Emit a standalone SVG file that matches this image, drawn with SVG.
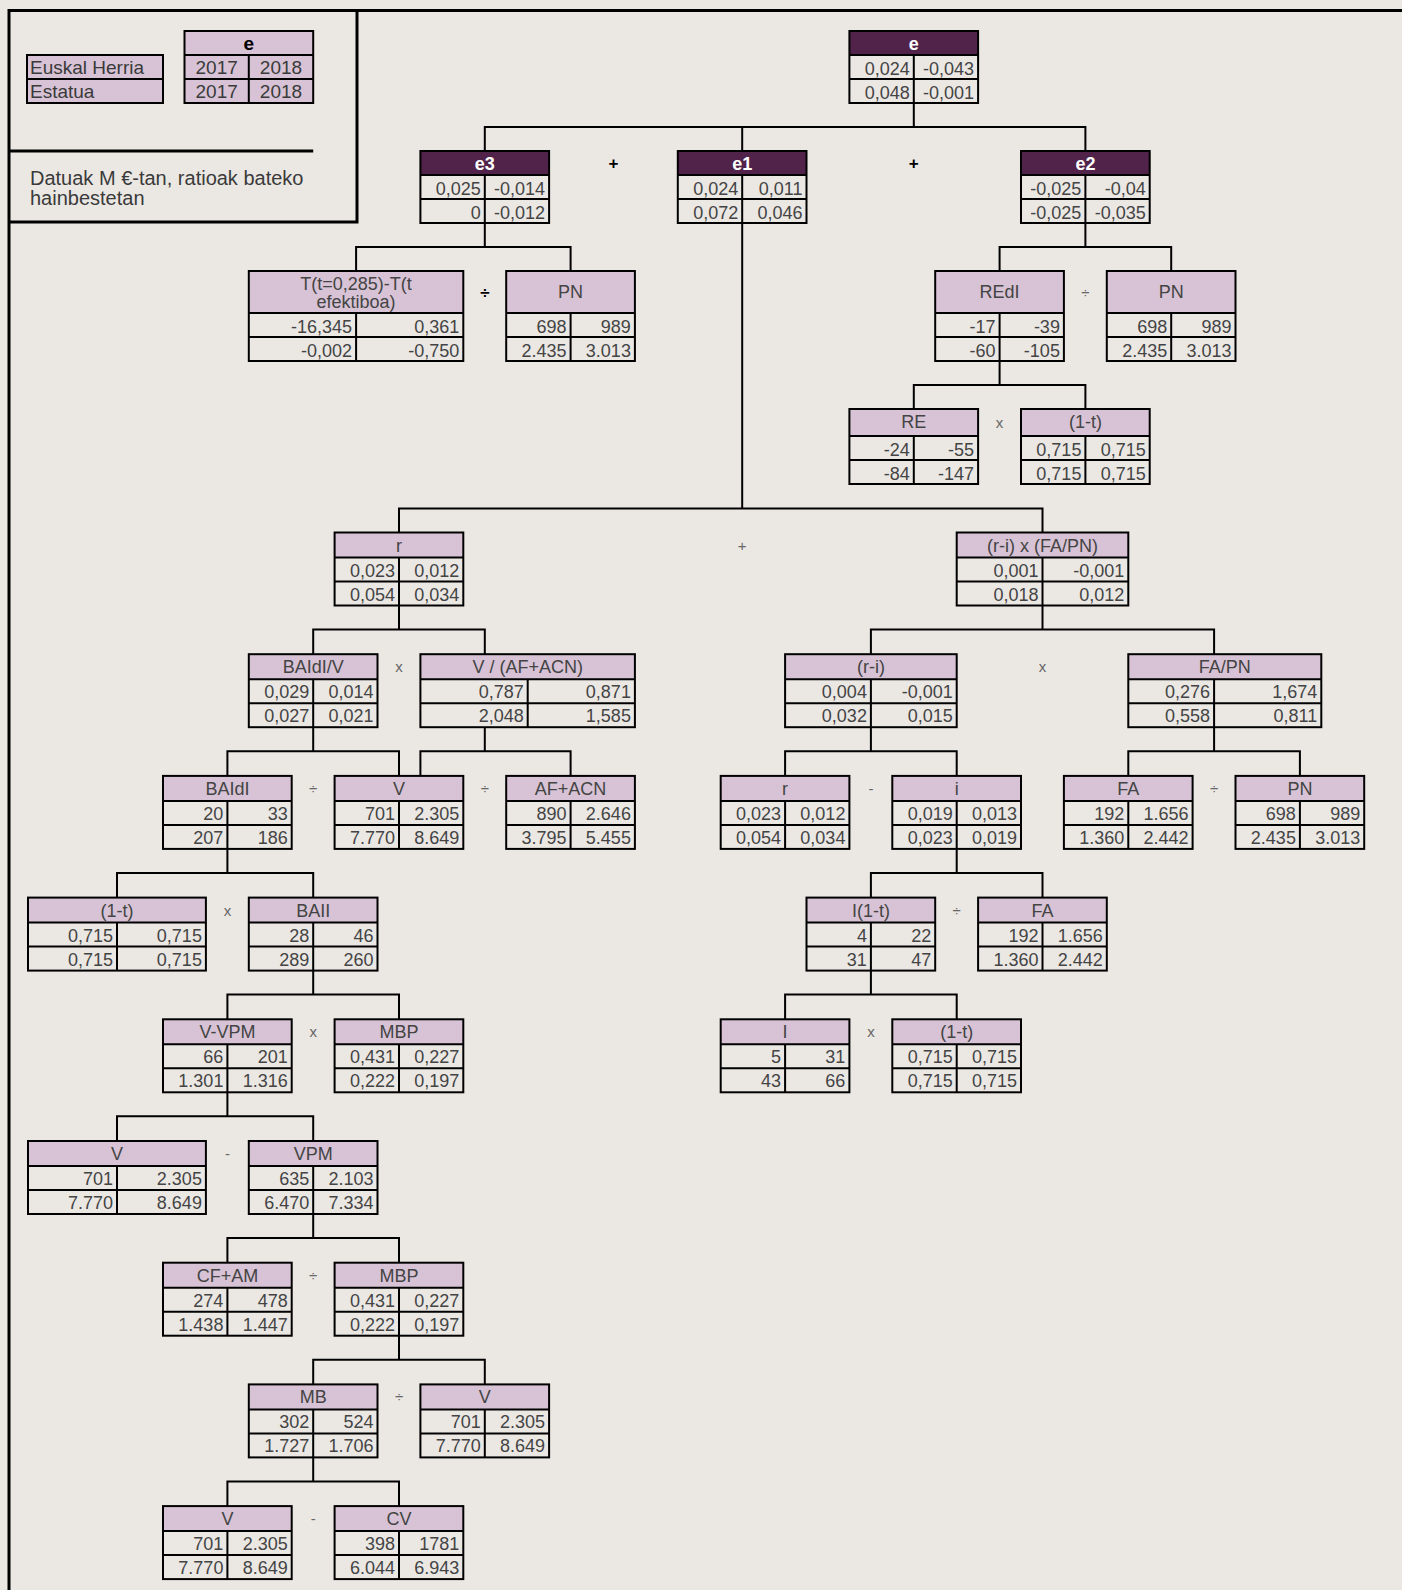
<svg xmlns="http://www.w3.org/2000/svg" width="1402" height="1590" viewBox="0 0 1402 1590">
<style>
.bg{fill:#ebe8e4}
.frame{fill:none;stroke:#000;stroke-width:3}
.hd{fill:#d7c3d5}
.hk{fill:#51224a}
.bx{fill:none;stroke:#000;stroke-width:2}
.gl{fill:none;stroke:#000;stroke-width:2}
.cn{fill:none;stroke:#000;stroke-width:2}
text{font-family:'Liberation Sans',Arial,sans-serif;font-size:18px;fill:#444}
.n{text-anchor:end}
.h{text-anchor:middle}
.hw{text-anchor:middle;fill:#fff;font-weight:bold;font-size:18px}
.op{text-anchor:middle;fill:#666;font-size:15px}
.opb{text-anchor:middle;fill:#000;font-weight:bold;font-size:17px}
.lg{font-size:19px;fill:#3a3a3a}
.lgb{text-anchor:middle;font-weight:bold;fill:#000;font-size:19px}
.note{font-size:20px;fill:#3a3a3a}
</style>
<rect class="bg" x="0" y="0" width="1402" height="1590"/>
<path class="frame" d="M9 1590V10.5H1402"/>

<g id="legend">
<rect class="hd" x="27" y="55" width="136" height="48"/>
<rect class="bx" x="27" y="55" width="136" height="48"/>
<path class="gl" d="M27 79H163"/>
<text class="lg" x="30" y="74">Euskal Herria</text>
<text class="lg" x="30" y="98">Estatua</text>
<rect class="hd" x="184.5" y="31" width="128.7" height="72"/>
<rect class="bx" x="184.5" y="31" width="128.7" height="72"/>
<path class="gl" d="M184.5 55H313.2M184.5 79H313.2M248.8 55V103"/>
<text class="lgb" x="248.8" y="50">e</text>
<text class="lg h" x="216.7" y="74">2017</text>
<text class="lg h" x="281" y="74">2018</text>
<text class="lg h" x="216.7" y="98">2017</text>
<text class="lg h" x="281" y="98">2018</text>
<path class="frame" d="M9 151H313.2"/>
<path class="frame" d="M357 10V222H9"/>
<text class="note" x="30" y="185">Datuak M €-tan, ratioak bateko</text>
<text class="note" x="30" y="205">hainbestetan</text>
</g>

<g id="connectors">
<path class="cn" d="M913.8 103V127M484.8 151V127H1085.4V151M742.2 127V151"/>
<path class="cn" d="M484.8 223V247M356.1 271V247H570.6V271"/>
<path class="cn" d="M1085.4 223V247M999.6 271V247H1171.2V271"/>
<path class="cn" d="M999.6 361V385M913.8 409V385H1085.4V409"/>
<path class="cn" d="M742.2 223V508.5M399 532.5V508.5H1042.5V532.5"/>
<path class="cn" d="M399 605.5V629.5M313.2 654.2V629.5H484.8V654.2"/>
<path class="cn" d="M1042.5 605.5V629.5M870.9 654.2V629.5H1214.1V654.2"/>
<path class="cn" d="M313.2 727.2V751.2M227.4 775.9V751.2H399V775.9"/>
<path class="cn" d="M484.8 727.2V751.2M420.4 775.9V751.2H570.6V775.9"/>
<path class="cn" d="M870.9 727.2V751.2M785.1 775.9V751.2H956.7V775.9"/>
<path class="cn" d="M1214.1 727.2V751.2M1128.3 775.9V751.2H1299.9V775.9"/>
<path class="cn" d="M227.4 848.9V872.9M117 897.6V872.9H313.2V897.6"/>
<path class="cn" d="M956.7 848.9V872.9M870.9 897.6V872.9H1042.5V897.6"/>
<path class="cn" d="M313.2 970.6V994.6M227.4 1019.3V994.6H399V1019.3"/>
<path class="cn" d="M870.9 970.6V994.6M785.1 1019.3V994.6H956.7V1019.3"/>
<path class="cn" d="M227.4 1092.3V1116.3M117 1141V1116.3H313.2V1141"/>
<path class="cn" d="M313.2 1214V1238M227.4 1262.7V1238H399V1262.7"/>
<path class="cn" d="M399 1335.7V1359.7M313.2 1384.4V1359.7H484.8V1384.4"/>
<path class="cn" d="M313.2 1457.4V1481.4M227.4 1506.1V1481.4H399V1506.1"/>
</g>

<g id="operators">
<text class="opb" x="613.5" y="169">+</text>
<text class="opb" x="913.8" y="169">+</text>
<text class="opb" x="484.8" y="298">÷</text>
<text class="op" x="1085.4" y="298">÷</text>
<text class="op" x="999.6" y="428">x</text>
<text class="op" x="742.2" y="550.5">+</text>
<text class="op" x="399" y="672.2">x</text>
<text class="op" x="1042.5" y="672.2">x</text>
<text class="op" x="313.2" y="793.9">÷</text>
<text class="op" x="484.8" y="793.9">÷</text>
<text class="op" x="870.9" y="793.9">-</text>
<text class="op" x="1214.1" y="793.9">÷</text>
<text class="op" x="227.4" y="915.6">x</text>
<text class="op" x="956.7" y="915.6">÷</text>
<text class="op" x="313.2" y="1037.3">x</text>
<text class="op" x="870.9" y="1037.3">x</text>
<text class="op" x="227.4" y="1159">-</text>
<text class="op" x="313.2" y="1280.7">÷</text>
<text class="op" x="399" y="1402.4">÷</text>
<text class="op" x="313.2" y="1524.1">-</text>
</g>

<g id="node-e">
<rect class="hk" x="849.4" y="31" width="128.7" height="24"/>
<rect class="bx" x="849.4" y="31" width="128.7" height="72"/>
<path class="gl" d="M849.4 55H978.1M849.4 79H978.1M913.8 55V103"/>
<text class="hw" x="913.8" y="50">e</text>
<text class="n" x="909.8" y="74.5">0,024</text><text class="n" x="974.1" y="74.5">-0,043</text>
<text class="n" x="909.8" y="98.5">0,048</text><text class="n" x="974.1" y="98.5">-0,001</text>
</g>

<g id="node-e3">
<rect class="hk" x="420.4" y="151" width="128.7" height="24"/>
<rect class="bx" x="420.4" y="151" width="128.7" height="72"/>
<path class="gl" d="M420.4 175H549.1M420.4 199H549.1M484.8 175V223"/>
<text class="hw" x="484.8" y="170">e3</text>
<text class="n" x="480.8" y="194.5">0,025</text><text class="n" x="545.1" y="194.5">-0,014</text>
<text class="n" x="480.8" y="218.5">0</text><text class="n" x="545.1" y="218.5">-0,012</text>
</g>

<g id="node-e1">
<rect class="hk" x="677.8" y="151" width="128.7" height="24"/>
<rect class="bx" x="677.8" y="151" width="128.7" height="72"/>
<path class="gl" d="M677.8 175H806.5M677.8 199H806.5M742.2 175V223"/>
<text class="hw" x="742.2" y="170">e1</text>
<text class="n" x="738.2" y="194.5">0,024</text><text class="n" x="802.5" y="194.5">0,011</text>
<text class="n" x="738.2" y="218.5">0,072</text><text class="n" x="802.5" y="218.5">0,046</text>
</g>

<g id="node-e2">
<rect class="hk" x="1021" y="151" width="128.7" height="24"/>
<rect class="bx" x="1021" y="151" width="128.7" height="72"/>
<path class="gl" d="M1021 175H1149.7M1021 199H1149.7M1085.4 175V223"/>
<text class="hw" x="1085.4" y="170">e2</text>
<text class="n" x="1081.4" y="194.5">-0,025</text><text class="n" x="1145.7" y="194.5">-0,04</text>
<text class="n" x="1081.4" y="218.5">-0,025</text><text class="n" x="1145.7" y="218.5">-0,035</text>
</g>

<g id="node-tax">
<rect class="hd" x="248.8" y="271" width="214.5" height="42"/>
<rect class="bx" x="248.8" y="271" width="214.5" height="90"/>
<path class="gl" d="M248.8 313H463.3M248.8 337H463.3M356.1 313V361"/>
<text class="h" x="356.1" y="290">T(t=0,285)-T(t</text>
<text class="h" x="356.1" y="308">efektiboa)</text>
<text class="n" x="352.1" y="332.5">-16,345</text><text class="n" x="459.3" y="332.5">0,361</text>
<text class="n" x="352.1" y="356.5">-0,002</text><text class="n" x="459.3" y="356.5">-0,750</text>
</g>

<g id="node-pn1">
<rect class="hd" x="506.2" y="271" width="128.7" height="42"/>
<rect class="bx" x="506.2" y="271" width="128.7" height="90"/>
<path class="gl" d="M506.2 313H634.9M506.2 337H634.9M570.6 313V361"/>
<text class="h" x="570.6" y="298">PN</text>
<text class="n" x="566.6" y="332.5">698</text><text class="n" x="630.9" y="332.5">989</text>
<text class="n" x="566.6" y="356.5">2.435</text><text class="n" x="630.9" y="356.5">3.013</text>
</g>

<g id="node-redi">
<rect class="hd" x="935.2" y="271" width="128.7" height="42"/>
<rect class="bx" x="935.2" y="271" width="128.7" height="90"/>
<path class="gl" d="M935.2 313H1063.9M935.2 337H1063.9M999.6 313V361"/>
<text class="h" x="999.6" y="298">REdI</text>
<text class="n" x="995.6" y="332.5">-17</text><text class="n" x="1059.9" y="332.5">-39</text>
<text class="n" x="995.6" y="356.5">-60</text><text class="n" x="1059.9" y="356.5">-105</text>
</g>

<g id="node-pn2">
<rect class="hd" x="1106.8" y="271" width="128.7" height="42"/>
<rect class="bx" x="1106.8" y="271" width="128.7" height="90"/>
<path class="gl" d="M1106.8 313H1235.5M1106.8 337H1235.5M1171.2 313V361"/>
<text class="h" x="1171.2" y="298">PN</text>
<text class="n" x="1167.2" y="332.5">698</text><text class="n" x="1231.5" y="332.5">989</text>
<text class="n" x="1167.2" y="356.5">2.435</text><text class="n" x="1231.5" y="356.5">3.013</text>
</g>

<g id="node-re">
<rect class="hd" x="849.4" y="409" width="128.7" height="27"/>
<rect class="bx" x="849.4" y="409" width="128.7" height="75"/>
<path class="gl" d="M849.4 436H978.1M849.4 460H978.1M913.8 436V484"/>
<text class="h" x="913.8" y="428">RE</text>
<text class="n" x="909.8" y="455.5">-24</text><text class="n" x="974.1" y="455.5">-55</text>
<text class="n" x="909.8" y="479.5">-84</text><text class="n" x="974.1" y="479.5">-147</text>
</g>

<g id="node-1t-a">
<rect class="hd" x="1021" y="409" width="128.7" height="27"/>
<rect class="bx" x="1021" y="409" width="128.7" height="75"/>
<path class="gl" d="M1021 436H1149.7M1021 460H1149.7M1085.4 436V484"/>
<text class="h" x="1085.4" y="428">(1-t)</text>
<text class="n" x="1081.4" y="455.5">0,715</text><text class="n" x="1145.7" y="455.5">0,715</text>
<text class="n" x="1081.4" y="479.5">0,715</text><text class="n" x="1145.7" y="479.5">0,715</text>
</g>

<g id="node-r">
<rect class="hd" x="334.6" y="532.5" width="128.7" height="25"/>
<rect class="bx" x="334.6" y="532.5" width="128.7" height="73"/>
<path class="gl" d="M334.6 557.5H463.3M334.6 581.5H463.3M399 557.5V605.5"/>
<text class="h" x="399" y="551.5">r</text>
<text class="n" x="395" y="576.5">0,023</text><text class="n" x="459.3" y="576.5">0,012</text>
<text class="n" x="395" y="600.5">0,054</text><text class="n" x="459.3" y="600.5">0,034</text>
</g>

<g id="node-rifapn">
<rect class="hd" x="956.7" y="532.5" width="171.6" height="25"/>
<rect class="bx" x="956.7" y="532.5" width="171.6" height="73"/>
<path class="gl" d="M956.7 557.5H1128.3M956.7 581.5H1128.3M1042.5 557.5V605.5"/>
<text class="h" x="1042.5" y="551.5">(r-i) x (FA/PN)</text>
<text class="n" x="1038.5" y="576.5">0,001</text><text class="n" x="1124.3" y="576.5">-0,001</text>
<text class="n" x="1038.5" y="600.5">0,018</text><text class="n" x="1124.3" y="600.5">0,012</text>
</g>

<g id="node-baidiv">
<rect class="hd" x="248.8" y="654.2" width="128.7" height="25"/>
<rect class="bx" x="248.8" y="654.2" width="128.7" height="73"/>
<path class="gl" d="M248.8 679.2H377.5M248.8 703.2H377.5M313.2 679.2V727.2"/>
<text class="h" x="313.2" y="673.2">BAIdI/V</text>
<text class="n" x="309.2" y="698.2">0,029</text><text class="n" x="373.5" y="698.2">0,014</text>
<text class="n" x="309.2" y="722.2">0,027</text><text class="n" x="373.5" y="722.2">0,021</text>
</g>

<g id="node-vafacn">
<rect class="hd" x="420.4" y="654.2" width="214.5" height="25"/>
<rect class="bx" x="420.4" y="654.2" width="214.5" height="73"/>
<path class="gl" d="M420.4 679.2H634.9M420.4 703.2H634.9M527.7 679.2V727.2"/>
<text class="h" x="527.7" y="673.2">V / (AF+ACN)</text>
<text class="n" x="523.7" y="698.2">0,787</text><text class="n" x="630.9" y="698.2">0,871</text>
<text class="n" x="523.7" y="722.2">2,048</text><text class="n" x="630.9" y="722.2">1,585</text>
</g>

<g id="node-ri">
<rect class="hd" x="785.1" y="654.2" width="171.6" height="25"/>
<rect class="bx" x="785.1" y="654.2" width="171.6" height="73"/>
<path class="gl" d="M785.1 679.2H956.7M785.1 703.2H956.7M870.9 679.2V727.2"/>
<text class="h" x="870.9" y="673.2">(r-i)</text>
<text class="n" x="866.9" y="698.2">0,004</text><text class="n" x="952.7" y="698.2">-0,001</text>
<text class="n" x="866.9" y="722.2">0,032</text><text class="n" x="952.7" y="722.2">0,015</text>
</g>

<g id="node-fapn">
<rect class="hd" x="1128.3" y="654.2" width="193" height="25"/>
<rect class="bx" x="1128.3" y="654.2" width="193" height="73"/>
<path class="gl" d="M1128.3 679.2H1321.3M1128.3 703.2H1321.3M1214.1 679.2V727.2"/>
<text class="h" x="1224.8" y="673.2">FA/PN</text>
<text class="n" x="1210.1" y="698.2">0,276</text><text class="n" x="1317.3" y="698.2">1,674</text>
<text class="n" x="1210.1" y="722.2">0,558</text><text class="n" x="1317.3" y="722.2">0,811</text>
</g>

<g id="node-baidi">
<rect class="hd" x="163" y="775.9" width="128.7" height="25"/>
<rect class="bx" x="163" y="775.9" width="128.7" height="73"/>
<path class="gl" d="M163 800.9H291.7M163 824.9H291.7M227.4 800.9V848.9"/>
<text class="h" x="227.4" y="794.9">BAIdI</text>
<text class="n" x="223.4" y="819.9">20</text><text class="n" x="287.7" y="819.9">33</text>
<text class="n" x="223.4" y="843.9">207</text><text class="n" x="287.7" y="843.9">186</text>
</g>

<g id="node-v1">
<rect class="hd" x="334.6" y="775.9" width="128.7" height="25"/>
<rect class="bx" x="334.6" y="775.9" width="128.7" height="73"/>
<path class="gl" d="M334.6 800.9H463.3M334.6 824.9H463.3M399 800.9V848.9"/>
<text class="h" x="399" y="794.9">V</text>
<text class="n" x="395" y="819.9">701</text><text class="n" x="459.3" y="819.9">2.305</text>
<text class="n" x="395" y="843.9">7.770</text><text class="n" x="459.3" y="843.9">8.649</text>
</g>

<g id="node-afacn">
<rect class="hd" x="506.2" y="775.9" width="128.7" height="25"/>
<rect class="bx" x="506.2" y="775.9" width="128.7" height="73"/>
<path class="gl" d="M506.2 800.9H634.9M506.2 824.9H634.9M570.6 800.9V848.9"/>
<text class="h" x="570.6" y="794.9">AF+ACN</text>
<text class="n" x="566.6" y="819.9">890</text><text class="n" x="630.9" y="819.9">2.646</text>
<text class="n" x="566.6" y="843.9">3.795</text><text class="n" x="630.9" y="843.9">5.455</text>
</g>

<g id="node-r2">
<rect class="hd" x="720.7" y="775.9" width="128.7" height="25"/>
<rect class="bx" x="720.7" y="775.9" width="128.7" height="73"/>
<path class="gl" d="M720.7 800.9H849.4M720.7 824.9H849.4M785.1 800.9V848.9"/>
<text class="h" x="785.1" y="794.9">r</text>
<text class="n" x="781.1" y="819.9">0,023</text><text class="n" x="845.4" y="819.9">0,012</text>
<text class="n" x="781.1" y="843.9">0,054</text><text class="n" x="845.4" y="843.9">0,034</text>
</g>

<g id="node-i">
<rect class="hd" x="892.3" y="775.9" width="128.7" height="25"/>
<rect class="bx" x="892.3" y="775.9" width="128.7" height="73"/>
<path class="gl" d="M892.3 800.9H1021M892.3 824.9H1021M956.7 800.9V848.9"/>
<text class="h" x="956.7" y="794.9">i</text>
<text class="n" x="952.7" y="819.9">0,019</text><text class="n" x="1017" y="819.9">0,013</text>
<text class="n" x="952.7" y="843.9">0,023</text><text class="n" x="1017" y="843.9">0,019</text>
</g>

<g id="node-fa1">
<rect class="hd" x="1063.9" y="775.9" width="128.7" height="25"/>
<rect class="bx" x="1063.9" y="775.9" width="128.7" height="73"/>
<path class="gl" d="M1063.9 800.9H1192.6M1063.9 824.9H1192.6M1128.3 800.9V848.9"/>
<text class="h" x="1128.3" y="794.9">FA</text>
<text class="n" x="1124.3" y="819.9">192</text><text class="n" x="1188.6" y="819.9">1.656</text>
<text class="n" x="1124.3" y="843.9">1.360</text><text class="n" x="1188.6" y="843.9">2.442</text>
</g>

<g id="node-pn3">
<rect class="hd" x="1235.5" y="775.9" width="128.7" height="25"/>
<rect class="bx" x="1235.5" y="775.9" width="128.7" height="73"/>
<path class="gl" d="M1235.5 800.9H1364.2M1235.5 824.9H1364.2M1299.9 800.9V848.9"/>
<text class="h" x="1299.9" y="794.9">PN</text>
<text class="n" x="1295.9" y="819.9">698</text><text class="n" x="1360.2" y="819.9">989</text>
<text class="n" x="1295.9" y="843.9">2.435</text><text class="n" x="1360.2" y="843.9">3.013</text>
</g>

<g id="node-1t-b">
<rect class="hd" x="28" y="897.6" width="177.9" height="25"/>
<rect class="bx" x="28" y="897.6" width="177.9" height="73"/>
<path class="gl" d="M28 922.6H205.9M28 946.6H205.9M117 922.6V970.6"/>
<text class="h" x="117" y="916.6">(1-t)</text>
<text class="n" x="113" y="941.6">0,715</text><text class="n" x="201.9" y="941.6">0,715</text>
<text class="n" x="113" y="965.6">0,715</text><text class="n" x="201.9" y="965.6">0,715</text>
</g>

<g id="node-baii">
<rect class="hd" x="248.8" y="897.6" width="128.7" height="25"/>
<rect class="bx" x="248.8" y="897.6" width="128.7" height="73"/>
<path class="gl" d="M248.8 922.6H377.5M248.8 946.6H377.5M313.2 922.6V970.6"/>
<text class="h" x="313.2" y="916.6">BAII</text>
<text class="n" x="309.2" y="941.6">28</text><text class="n" x="373.5" y="941.6">46</text>
<text class="n" x="309.2" y="965.6">289</text><text class="n" x="373.5" y="965.6">260</text>
</g>

<g id="node-i1t">
<rect class="hd" x="806.5" y="897.6" width="128.7" height="25"/>
<rect class="bx" x="806.5" y="897.6" width="128.7" height="73"/>
<path class="gl" d="M806.5 922.6H935.2M806.5 946.6H935.2M870.9 922.6V970.6"/>
<text class="h" x="870.9" y="916.6">I(1-t)</text>
<text class="n" x="866.9" y="941.6">4</text><text class="n" x="931.2" y="941.6">22</text>
<text class="n" x="866.9" y="965.6">31</text><text class="n" x="931.2" y="965.6">47</text>
</g>

<g id="node-fa2">
<rect class="hd" x="978.1" y="897.6" width="128.7" height="25"/>
<rect class="bx" x="978.1" y="897.6" width="128.7" height="73"/>
<path class="gl" d="M978.1 922.6H1106.8M978.1 946.6H1106.8M1042.5 922.6V970.6"/>
<text class="h" x="1042.5" y="916.6">FA</text>
<text class="n" x="1038.5" y="941.6">192</text><text class="n" x="1102.8" y="941.6">1.656</text>
<text class="n" x="1038.5" y="965.6">1.360</text><text class="n" x="1102.8" y="965.6">2.442</text>
</g>

<g id="node-vvpm">
<rect class="hd" x="163" y="1019.3" width="128.7" height="25"/>
<rect class="bx" x="163" y="1019.3" width="128.7" height="73"/>
<path class="gl" d="M163 1044.3H291.7M163 1068.3H291.7M227.4 1044.3V1092.3"/>
<text class="h" x="227.4" y="1038.3">V-VPM</text>
<text class="n" x="223.4" y="1063.3">66</text><text class="n" x="287.7" y="1063.3">201</text>
<text class="n" x="223.4" y="1087.3">1.301</text><text class="n" x="287.7" y="1087.3">1.316</text>
</g>

<g id="node-mbp1">
<rect class="hd" x="334.6" y="1019.3" width="128.7" height="25"/>
<rect class="bx" x="334.6" y="1019.3" width="128.7" height="73"/>
<path class="gl" d="M334.6 1044.3H463.3M334.6 1068.3H463.3M399 1044.3V1092.3"/>
<text class="h" x="399" y="1038.3">MBP</text>
<text class="n" x="395" y="1063.3">0,431</text><text class="n" x="459.3" y="1063.3">0,227</text>
<text class="n" x="395" y="1087.3">0,222</text><text class="n" x="459.3" y="1087.3">0,197</text>
</g>

<g id="node-I">
<rect class="hd" x="720.7" y="1019.3" width="128.7" height="25"/>
<rect class="bx" x="720.7" y="1019.3" width="128.7" height="73"/>
<path class="gl" d="M720.7 1044.3H849.4M720.7 1068.3H849.4M785.1 1044.3V1092.3"/>
<text class="h" x="785.1" y="1038.3">I</text>
<text class="n" x="781.1" y="1063.3">5</text><text class="n" x="845.4" y="1063.3">31</text>
<text class="n" x="781.1" y="1087.3">43</text><text class="n" x="845.4" y="1087.3">66</text>
</g>

<g id="node-1t-c">
<rect class="hd" x="892.3" y="1019.3" width="128.7" height="25"/>
<rect class="bx" x="892.3" y="1019.3" width="128.7" height="73"/>
<path class="gl" d="M892.3 1044.3H1021M892.3 1068.3H1021M956.7 1044.3V1092.3"/>
<text class="h" x="956.7" y="1038.3">(1-t)</text>
<text class="n" x="952.7" y="1063.3">0,715</text><text class="n" x="1017" y="1063.3">0,715</text>
<text class="n" x="952.7" y="1087.3">0,715</text><text class="n" x="1017" y="1087.3">0,715</text>
</g>

<g id="node-v2">
<rect class="hd" x="28" y="1141" width="177.9" height="25"/>
<rect class="bx" x="28" y="1141" width="177.9" height="73"/>
<path class="gl" d="M28 1166H205.9M28 1190H205.9M117 1166V1214"/>
<text class="h" x="117" y="1160">V</text>
<text class="n" x="113" y="1185">701</text><text class="n" x="201.9" y="1185">2.305</text>
<text class="n" x="113" y="1209">7.770</text><text class="n" x="201.9" y="1209">8.649</text>
</g>

<g id="node-vpm">
<rect class="hd" x="248.8" y="1141" width="128.7" height="25"/>
<rect class="bx" x="248.8" y="1141" width="128.7" height="73"/>
<path class="gl" d="M248.8 1166H377.5M248.8 1190H377.5M313.2 1166V1214"/>
<text class="h" x="313.2" y="1160">VPM</text>
<text class="n" x="309.2" y="1185">635</text><text class="n" x="373.5" y="1185">2.103</text>
<text class="n" x="309.2" y="1209">6.470</text><text class="n" x="373.5" y="1209">7.334</text>
</g>

<g id="node-cfam">
<rect class="hd" x="163" y="1262.7" width="128.7" height="25"/>
<rect class="bx" x="163" y="1262.7" width="128.7" height="73"/>
<path class="gl" d="M163 1287.7H291.7M163 1311.7H291.7M227.4 1287.7V1335.7"/>
<text class="h" x="227.4" y="1281.7">CF+AM</text>
<text class="n" x="223.4" y="1306.7">274</text><text class="n" x="287.7" y="1306.7">478</text>
<text class="n" x="223.4" y="1330.7">1.438</text><text class="n" x="287.7" y="1330.7">1.447</text>
</g>

<g id="node-mbp2">
<rect class="hd" x="334.6" y="1262.7" width="128.7" height="25"/>
<rect class="bx" x="334.6" y="1262.7" width="128.7" height="73"/>
<path class="gl" d="M334.6 1287.7H463.3M334.6 1311.7H463.3M399 1287.7V1335.7"/>
<text class="h" x="399" y="1281.7">MBP</text>
<text class="n" x="395" y="1306.7">0,431</text><text class="n" x="459.3" y="1306.7">0,227</text>
<text class="n" x="395" y="1330.7">0,222</text><text class="n" x="459.3" y="1330.7">0,197</text>
</g>

<g id="node-mb">
<rect class="hd" x="248.8" y="1384.4" width="128.7" height="25"/>
<rect class="bx" x="248.8" y="1384.4" width="128.7" height="73"/>
<path class="gl" d="M248.8 1409.4H377.5M248.8 1433.4H377.5M313.2 1409.4V1457.4"/>
<text class="h" x="313.2" y="1403.4">MB</text>
<text class="n" x="309.2" y="1428.4">302</text><text class="n" x="373.5" y="1428.4">524</text>
<text class="n" x="309.2" y="1452.4">1.727</text><text class="n" x="373.5" y="1452.4">1.706</text>
</g>

<g id="node-v3">
<rect class="hd" x="420.4" y="1384.4" width="128.7" height="25"/>
<rect class="bx" x="420.4" y="1384.4" width="128.7" height="73"/>
<path class="gl" d="M420.4 1409.4H549.1M420.4 1433.4H549.1M484.8 1409.4V1457.4"/>
<text class="h" x="484.8" y="1403.4">V</text>
<text class="n" x="480.8" y="1428.4">701</text><text class="n" x="545.1" y="1428.4">2.305</text>
<text class="n" x="480.8" y="1452.4">7.770</text><text class="n" x="545.1" y="1452.4">8.649</text>
</g>

<g id="node-v4">
<rect class="hd" x="163" y="1506.1" width="128.7" height="25"/>
<rect class="bx" x="163" y="1506.1" width="128.7" height="73"/>
<path class="gl" d="M163 1531.1H291.7M163 1555.1H291.7M227.4 1531.1V1579.1"/>
<text class="h" x="227.4" y="1525.1">V</text>
<text class="n" x="223.4" y="1550.1">701</text><text class="n" x="287.7" y="1550.1">2.305</text>
<text class="n" x="223.4" y="1574.1">7.770</text><text class="n" x="287.7" y="1574.1">8.649</text>
</g>

<g id="node-cv">
<rect class="hd" x="334.6" y="1506.1" width="128.7" height="25"/>
<rect class="bx" x="334.6" y="1506.1" width="128.7" height="73"/>
<path class="gl" d="M334.6 1531.1H463.3M334.6 1555.1H463.3M399 1531.1V1579.1"/>
<text class="h" x="399" y="1525.1">CV</text>
<text class="n" x="395" y="1550.1">398</text><text class="n" x="459.3" y="1550.1">1781</text>
<text class="n" x="395" y="1574.1">6.044</text><text class="n" x="459.3" y="1574.1">6.943</text>
</g>
</svg>
